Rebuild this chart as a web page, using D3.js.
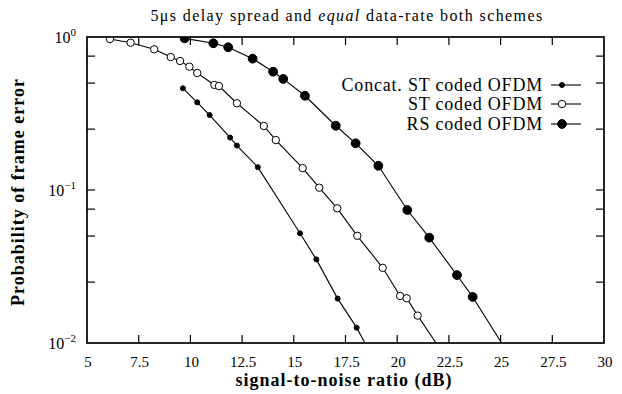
<!DOCTYPE html>
<html><head><meta charset="utf-8">
<script src="https://cdn.jsdelivr.net/npm/d3@7"></script>
<style>
html,body{margin:0;padding:0;background:#fff;}
</style></head>
<body>
<svg id="chart" width="622" height="394"></svg>
<script>
// ---- data ----
const titleText = ["5\u03bcs delay spread and ", "equal", " data-rate both schemes"];
const xLabel = "signal-to-noise ratio (dB)";
const yLabel = "Probability of frame error";
const xTicks = [5, 7.5, 10, 12.5, 15, 17.5, 20, 22.5, 25, 27.5, 30];
const xTickLabels = ["5", "7.5", "10", "12.5", "15", "17.5", "20", "22.5", "25", "27.5", "30"];
const yMajor = [1, 0.1, 0.01];
const yMajorExp = ["0", "\u22121", "\u22122"];
const yMinor = [0.75, 0.5, 0.25, 0.075, 0.05, 0.025];
const seriesNames = ["Concat. ST coded OFDM", "ST coded OFDM", "RS coded OFDM"];

const concatX = [9.64, 10.33, 10.93, 11.92, 12.25, 13.26, 15.30, 16.09, 17.12, 18.04];
const concatY = [0.462, 0.374, 0.309, 0.220, 0.195, 0.141, 0.0521, 0.0352, 0.0195, 0.0126];
const stX = [6.11, 7.11, 8.25, 9.05, 9.50, 9.95, 10.33, 11.16, 11.38, 12.25, 13.55, 14.13, 15.43, 16.23, 17.10, 18.07, 19.30, 20.14, 20.46, 20.99];
const stY = [0.97, 0.918, 0.831, 0.740, 0.697, 0.640, 0.582, 0.486, 0.478, 0.369, 0.262, 0.212, 0.139, 0.1035, 0.0759, 0.0502, 0.0310, 0.0203, 0.0196, 0.0151];
const rsX = [9.72, 11.11, 11.83, 13.01, 14.00, 14.49, 15.54, 17.03, 17.99, 19.09, 20.49, 21.55, 22.89, 23.65];
const rsY = [0.98, 0.91, 0.857, 0.722, 0.593, 0.532, 0.413, 0.263, 0.202, 0.144, 0.074, 0.0488, 0.0278, 0.0200];
// where each curve leaves the plot at the bottom edge (0.01)
const lineEndX = [18.44, 21.88, 25.05];
const lineEndY = [0.01, 0.01, 0.01];

// ---- layout ----
const FONT = "Liberation Serif";
const svg = d3.select("#chart");
const L = 87, R = 604, T = 37, B = 343;
const x = d3.scaleLinear().domain([5, 30]).range([L, R]);
const y = d3.scaleLog().domain([0.01, 1]).range([B, T]);

function txt(parent, size) {
  return parent.append("text").attr("font-family", FONT).attr("font-size", size).attr("fill", "#000");
}

const series = [
  {name: seriesNames[0], xs: concatX, ys: concatY, r: 2.5, fill: "#000"},
  {name: seriesNames[1], xs: stX, ys: stY, r: 3.7, fill: "#fff"},
  {name: seriesNames[2], xs: rsX, ys: rsY, r: 4.4, fill: "#000"}
];

svg.append("defs").append("clipPath").attr("id", "clip")
  .append("rect").attr("x", L).attr("y", T).attr("width", R - L).attr("height", B - T);

// ticks (inward, all four sides)
const tk = 8;
const tg = svg.append("g").attr("stroke", "#000").attr("stroke-width", 1.2);
xTicks.slice(1, -1).forEach(v => {
  tg.append("line").attr("x1", x(v)).attr("x2", x(v)).attr("y1", B).attr("y2", B - tk);
  tg.append("line").attr("x1", x(v)).attr("x2", x(v)).attr("y1", T).attr("y2", T + tk);
});
yMajor.slice(1, -1).concat(yMinor).forEach(v => {
  tg.append("line").attr("x1", L).attr("x2", L + tk).attr("y1", y(v)).attr("y2", y(v));
  tg.append("line").attr("x1", R).attr("x2", R - tk).attr("y1", y(v)).attr("y2", y(v));
});

// lines
const line = d3.line().x(d => x(d[0])).y(d => y(d[1]));
const plot = svg.append("g").attr("clip-path", "url(#clip)");
series.forEach((s, i) => {
  const pts = s.xs.map((v, j) => [v, s.ys[j]]).concat([[lineEndX[i], lineEndY[i]]]);
  plot.append("path").datum(pts).attr("d", line)
    .attr("fill", "none").attr("stroke", "#000").attr("stroke-width", 1.1);
});
series.forEach(s => {
  plot.selectAll(null).data(s.xs.map((v, j) => [v, s.ys[j]])).enter().append("circle")
    .attr("cx", d => x(d[0])).attr("cy", d => y(d[1])).attr("r", s.r)
    .attr("fill", s.fill).attr("stroke", "#000").attr("stroke-width", 1);
});

// frame
svg.append("rect").attr("x", L).attr("y", T).attr("width", R - L).attr("height", B - T)
  .attr("fill", "none").attr("stroke", "#000").attr("stroke-width", 1.7);

// x tick labels
xTicks.forEach((v, i) => {
  txt(svg, 15).attr("x", x(v) + 1).attr("y", 367).attr("text-anchor", "middle").text(xTickLabels[i]);
});

// y tick labels
yMajor.forEach((v, i) => {
  const t = txt(svg, 16).attr("x", 76).attr("y", y(v) + 6).attr("text-anchor", "end");
  t.append("tspan").text("10");
  t.append("tspan").attr("dy", -7).attr("font-size", 11).text(yMajorExp[i]);
});

// axis titles
txt(svg, 18).attr("x", 344).attr("y", 386).attr("text-anchor", "middle")
  .attr("font-weight", "bold").attr("letter-spacing", 1).text(xLabel);
txt(svg, 18).attr("transform", "translate(24,192) rotate(-90)").attr("text-anchor", "middle")
  .attr("font-weight", "bold").attr("letter-spacing", 1).text(yLabel);

// title
const tt = txt(svg, 16).attr("x", 347).attr("y", 21).attr("text-anchor", "middle").attr("letter-spacing", 1.4);
tt.append("tspan").text(titleText[0]);
tt.append("tspan").attr("font-style", "italic").text(titleText[1]);
tt.append("tspan").text(titleText[2]);

// legend
const legY = [85, 104, 124];
series.forEach((s, i) => {
  txt(svg, 18).attr("x", 543).attr("y", legY[i] + 6).attr("text-anchor", "end")
    .attr("letter-spacing", 0.8).text(s.name);
  svg.append("line").attr("x1", 551).attr("x2", 581).attr("y1", legY[i]).attr("y2", legY[i])
    .attr("stroke", "#000").attr("stroke-width", 1.1);
  svg.append("circle").attr("cx", 562).attr("cy", legY[i]).attr("r", s.r)
    .attr("fill", s.fill).attr("stroke", "#000").attr("stroke-width", 1);
});
</script>
</body></html>
